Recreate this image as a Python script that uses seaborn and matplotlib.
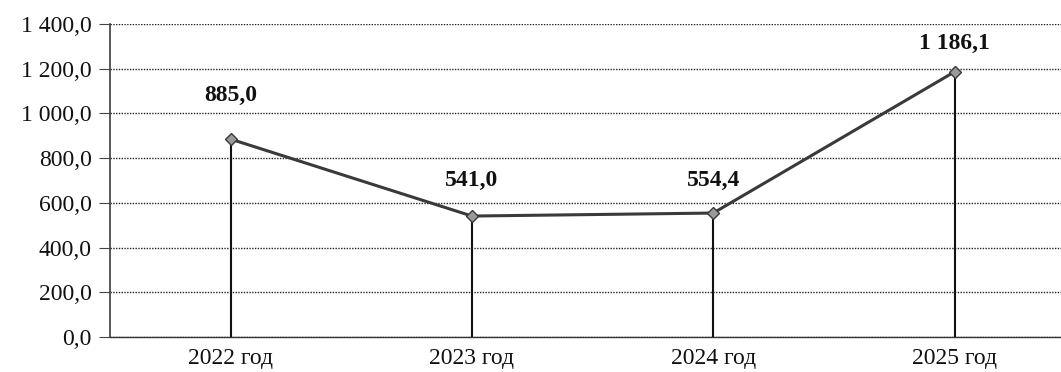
import matplotlib
matplotlib.use("Agg")
import matplotlib.pyplot as plt
import seaborn as sns
import pandas as pd
from matplotlib.ticker import FuncFormatter

years = ["2022 год", "2023 год", "2024 год", "2025 год"]
values = [885.0, 541.0, 554.4, 1186.1]
value_labels = ["885,0", "541,0", "554,4", "1 186,1"]

sns.set_theme(style="white")
plt.rcParams["font.family"] = ["Liberation Serif", "DejaVu Serif"]

df = pd.DataFrame({"year": years, "value": values})

fig = plt.figure(figsize=(10.61, 3.72), dpi=100)
ax = fig.add_axes([110 / 1061, 35 / 372, 951 / 1061, 313 / 372])

sns.lineplot(data=df, x="year", y="value", ax=ax, color="#3a3a3a", linewidth=2.2,
             marker="D", markersize=6, markerfacecolor="#9a9a9a",
             markeredgecolor="#3a3a3a", markeredgewidth=1.0, zorder=4)

# drop lines from each point down to the axis
ax.vlines(range(len(values)), 0, values, colors="#111111", linewidth=1.5, zorder=3)

ax.set_ylim(0, 1400)
ax.set_xlim(-0.5, -0.5 + 951 / 241.3)
ax.set_yticks(range(0, 1401, 200))


def fmt(v, _):
    s = f"{v:,.1f}".replace(",", " ").replace(".", ",")
    return s


ax.yaxis.set_major_formatter(FuncFormatter(fmt))
ax.grid(axis="y", linestyle=(0, (1, 1)), color="#222222", linewidth=1.0)
ax.set_axisbelow(True)

for side in ["top", "right"]:
    ax.spines[side].set_visible(False)
ax.spines["left"].set_linestyle((0, (1, 1)))
ax.spines["left"].set_color("#444444")
ax.spines["bottom"].set_color("#333333")
ax.spines["bottom"].set_linewidth(1.0)

ax.tick_params(axis="y", which="both", left=True, length=8, width=0.8, color="#444444",
               labelsize=17, pad=5, labelcolor="#111111")
ax.tick_params(axis="x", bottom=False, labelsize=17, pad=2, labelcolor="#111111")
ax.set_xlabel("")
ax.set_ylabel("")

offsets = [44, 36, 33, 28]
for i, (v, lab, off) in enumerate(zip(values, value_labels, offsets)):
    ax.annotate(lab, xy=(i, v), xytext=(0, off), textcoords="offset pixels",
                ha="center", va="center", fontsize=17, fontweight="bold",
                color="#111111")

fig.savefig("out.png", dpi=100)
